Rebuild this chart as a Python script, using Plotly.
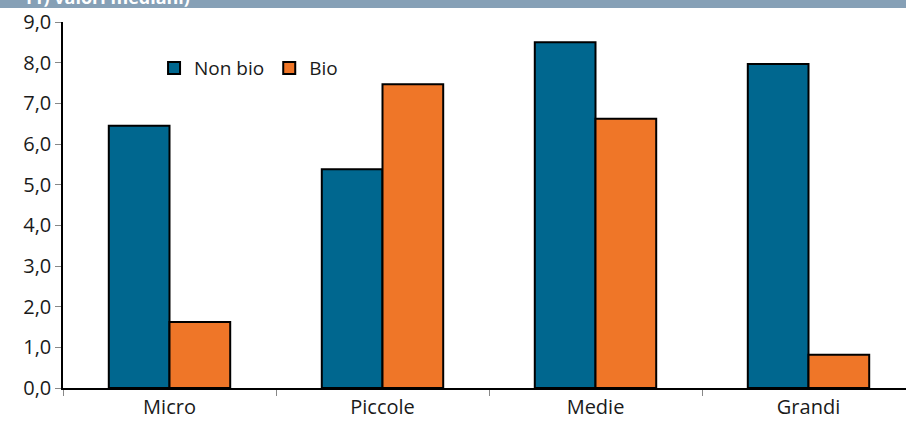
import plotly.graph_objects as go

categories = ["Micro", "Piccole", "Medie", "Grandi"]
non_bio = [6.45, 5.38, 8.50, 7.97]
bio = [1.62, 7.47, 6.62, 0.82]
series_names = ["Non bio", "Bio"]
header_text = "11) valori mediani)"

blue = "#00678F"
orange = "#EF7628"
font_family = "Open Sans, Noto Sans, sans-serif"

fig = go.Figure()
fig.add_trace(go.Bar(x=categories, y=non_bio, name=series_names[0],
                     marker=dict(color=blue, line=dict(color="black", width=2))))
fig.add_trace(go.Bar(x=categories, y=bio, name=series_names[1],
                     marker=dict(color=orange, line=dict(color="black", width=2))))

band_bottom = 1 + (22 - 8) / 366

fig.update_layout(
    width=906, height=425,
    margin=dict(l=63, r=0, t=22, b=37),
    plot_bgcolor="white", paper_bgcolor="white",
    barmode="group", bargap=0.43, bargroupgap=0,
    separators=",.",
    font=dict(family=font_family, size=20, color="#1a1a1a"),
    showlegend=True,
    legend=dict(orientation="h", x=0.108, y=0.874, xanchor="left", yanchor="middle",
                font=dict(size=19), bgcolor="rgba(0,0,0,0)",
                itemwidth=30, traceorder="normal"),
    xaxis=dict(range=[-0.5, -0.5 + 843 / 213], showline=True, linecolor="black", linewidth=1.5,
               ticks="outside", tickson="boundaries", ticklen=6, tickcolor="#888888",
               showgrid=False, tickfont=dict(size=20)),
    yaxis=dict(range=[0, 9], dtick=1, tickformat=".1f", showline=True, linecolor="black",
               linewidth=1.5, ticks="outside", ticklen=6, tickcolor="#888888",
               showgrid=False, zeroline=False, tickfont=dict(size=20)),
    shapes=[dict(type="rect", xref="paper", yref="paper", x0=-0.1, x1=1.05,
                 y0=band_bottom, y1=1 + 22 / 366 + 0.05,
                 fillcolor="#86A0B6", line=dict(width=0), layer="below")],
)
fig.add_annotation(text="<b>" + header_text + "</b>", xref="paper", yref="paper",
                   x=-0.05, y=1 + (22 - 11) / 366, xanchor="left", yanchor="bottom",
                   showarrow=False, font=dict(color="white", size=18, family=font_family))

fig.write_html("out.html", config={"displayModeBar": False},
               post_script="document.body.style.margin='0';document.body.style.overflow='hidden';")
